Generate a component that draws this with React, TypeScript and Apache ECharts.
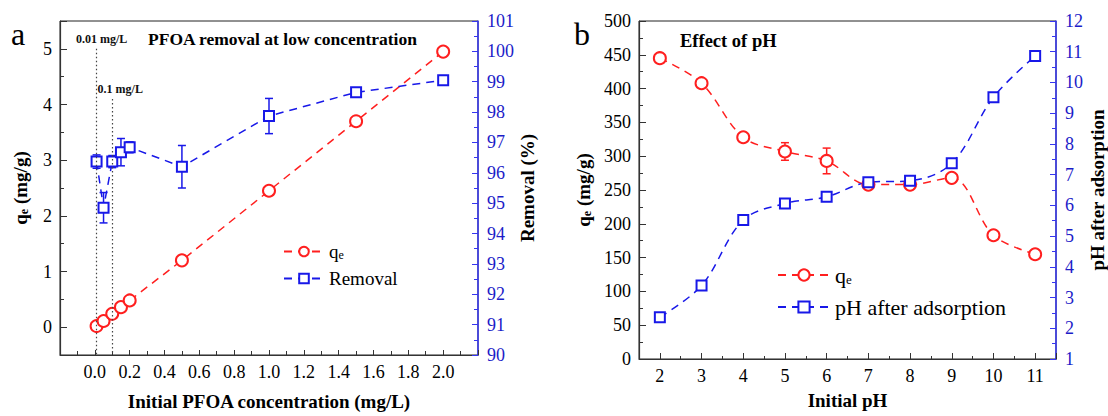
import React, { useEffect, useRef } from 'react';
import * as echarts from 'echarts';

// ---------- Panel a data ----------
const concA = [0.01, 0.05, 0.1, 0.15, 0.2, 0.5, 1.0, 1.5, 2.0];
const qeA = [0.02, 0.11, 0.24, 0.36, 0.48, 1.2, 2.45, 3.7, 4.95];
const qeAErr = [0.06, 0.07, 0.07, 0.07, 0.06, 0.06, 0.06, 0.06, 0.06];
const removalA = [96.37, 94.85, 96.37, 96.68, 96.84, 96.2, 97.87, 98.65, 99.05];
const removalAErr = [0.22, 0.5, 0.2, 0.45, 0.18, 0.7, 0.58, 0.12, 0.15];
const guideConc = [0.01, 0.1];
const guideTop = [5.0, 4.1];
const guideLabels = ['0.01 mg/L', '0.1 mg/L'];

// ---------- Panel b data ----------
const phB = [2, 3, 4, 5, 6, 7, 8, 9, 10, 11];
const qeB = [445, 408, 328, 307, 293, 258, 258, 268, 183, 155];
const qeBErr = [4, 4, 4, 13, 19, 5, 6, 6, 4, 3];
const phAfterB = [2.36, 3.39, 5.52, 6.06, 6.28, 6.75, 6.8, 7.37, 9.52, 10.86];
const phAfterBErr = [0.1, 0.1, 0.1, 0.1, 0.1, 0.1, 0.1, 0.1, 0.1, 0.1];

const FONT = "'Liberation Serif', 'Times New Roman', serif";
const RED = '#ff1f1f';
const BLUE = '#1818e8';
const AXIS_BLUE = '#3535f0';
const DARK = '#333';

const isInt = (v: number) => Math.abs(v - Math.round(v)) < 1e-6;

const errRender = (color: string) => (params: any, api: any) => {
  const x = api.value(0);
  const y = api.value(1);
  const e = api.value(2);
  const top = api.coord([x, y + e]);
  const bot = api.coord([x, y - e]);
  const w = 4;
  const st = { stroke: color, lineWidth: 1.5 };
  return {
    type: 'group',
    children: [
      { type: 'line', shape: { x1: top[0], y1: top[1], x2: bot[0], y2: bot[1] }, style: st },
      { type: 'line', shape: { x1: top[0] - w, y1: top[1], x2: top[0] + w, y2: top[1] }, style: st },
      { type: 'line', shape: { x1: bot[0] - w, y1: bot[1], x2: bot[0] + w, y2: bot[1] }, style: st },
    ],
  };
};

const tickLabel = (color = '#000') => ({ fontSize: 18, fontFamily: FONT, color });
const nameStyle = (size: number, color = '#000') => ({
  fontSize: size,
  fontWeight: 'bold',
  fontFamily: FONT,
  color,
  rich: {
    b: { fontSize: size, fontWeight: 'bold', fontFamily: FONT, color },
    s: { fontSize: Math.round(size * 0.62), fontWeight: 'bold', fontFamily: FONT, color, verticalAlign: 'bottom', lineHeight: 10 },
  },
});
const noSplit = { splitLine: { show: false }, minorSplitLine: { show: false } };

export default function App() {
  const ref = useRef<HTMLDivElement>(null);
  useEffect(() => {
    if (!ref.current) return;
    const chart = echarts.init(ref.current, undefined, { renderer: 'svg' });
    const option: any = {
      animation: false,
      backgroundColor: '#fff',
      grid: [
        { left: 60, top: 21, width: 418, height: 338, show: true, borderColor: '#222', borderWidth: 1, backgroundColor: 'transparent' },
        { left: 639, top: 21, width: 418, height: 338, show: true, borderColor: '#222', borderWidth: 1, backgroundColor: 'transparent' },
      ],
      xAxis: [
        {
          gridIndex: 0, type: 'value', position: 'bottom', min: -0.2, max: 2.2, interval: 0.2, ...noSplit,
          axisLine: { show: true, onZero: false, lineStyle: { color: DARK, width: 1.2 } },
          axisTick: { show: true, inside: true, length: 5, lineStyle: { color: DARK } },
          minorTick: { show: true, splitNumber: 2, length: 4, lineStyle: { color: DARK } },
          axisLabel: { ...tickLabel(), margin: 8, formatter: (v: number) => (v < -0.01 || v > 2.01 ? '' : v.toFixed(1)) },
          name: 'Initial PFOA concentration (mg/L)', nameLocation: 'middle', nameGap: 37, nameTextStyle: nameStyle(19),
        },
        {
          gridIndex: 1, type: 'value', position: 'bottom', min: 1.5, max: 11.5, splitNumber: 10, ...noSplit,
          axisLine: { show: true, onZero: false, lineStyle: { color: DARK, width: 1.2 } },
          axisTick: { show: true, inside: true, length: 6, lineStyle: { color: DARK } },
          axisLabel: { ...tickLabel(), margin: 8, formatter: (v: number) => (isInt(v) ? String(v) : '') },
          name: 'Initial pH', nameLocation: 'middle', nameGap: 32, nameTextStyle: nameStyle(19),
        },
        {
          gridIndex: 1, type: 'value', position: 'bottom', min: 1.5, max: 11.5, interval: 0.5, ...noSplit,
          axisLine: { show: false, onZero: false },
          axisTick: { show: true, inside: true, length: 3, lineStyle: { color: DARK } },
          axisLabel: { show: false },
        },
      ],
      yAxis: [
        {
          gridIndex: 0, type: 'value', position: 'left', min: -0.5, max: 5.5, splitNumber: 6, ...noSplit,
          axisLine: { show: true, onZero: false, lineStyle: { color: DARK, width: 1.2 } },
          axisTick: { show: true, inside: true, length: 7, lineStyle: { color: DARK } },
          axisLabel: { ...tickLabel(), margin: 8, formatter: (v: number) => (isInt(v) ? String(v) : '') },
          name: '{b|q}{s|e}{b| (mg/g)}', nameLocation: 'middle', nameGap: 30, nameTextStyle: nameStyle(19),
        },
        {
          gridIndex: 0, type: 'value', position: 'left', min: -0.5, max: 5.5, interval: 0.5, ...noSplit,
          axisLine: { show: false, onZero: false },
          axisTick: { show: true, inside: true, length: 4, lineStyle: { color: DARK } },
          axisLabel: { show: false },
        },
        {
          gridIndex: 0, type: 'value', position: 'right', min: 90, max: 101, interval: 1, ...noSplit,
          axisLine: { show: true, onZero: false, lineStyle: { color: AXIS_BLUE, width: 1.5 } },
          axisTick: { show: true, inside: true, length: 6, lineStyle: { color: AXIS_BLUE } },
          minorTick: { show: true, splitNumber: 2, length: 4, lineStyle: { color: AXIS_BLUE } },
          axisLabel: { ...tickLabel('#1c1cc8'), margin: 9 },
          name: 'Removal (%)', nameLocation: 'middle', nameGap: 33, nameTextStyle: nameStyle(19),
        },
        {
          gridIndex: 1, type: 'value', position: 'left', min: 0, max: 500, interval: 50, ...noSplit,
          axisLine: { show: true, onZero: false, lineStyle: { color: DARK, width: 1.2 } },
          axisTick: { show: true, inside: true, length: 7, lineStyle: { color: DARK } },
          minorTick: { show: true, splitNumber: 2, length: 4, lineStyle: { color: DARK } },
          axisLabel: { ...tickLabel(), margin: 8 },
          name: '{b|q}{s|e}{b| (mg/g)}', nameLocation: 'middle', nameGap: 46, nameTextStyle: nameStyle(19),
        },
        {
          gridIndex: 1, type: 'value', position: 'right', min: 1, max: 12, interval: 1, ...noSplit,
          axisLine: { show: true, onZero: false, lineStyle: { color: AXIS_BLUE, width: 1.5 } },
          axisTick: { show: true, inside: true, length: 6, lineStyle: { color: AXIS_BLUE } },
          minorTick: { show: true, splitNumber: 2, length: 4, lineStyle: { color: AXIS_BLUE } },
          axisLabel: { ...tickLabel('#1c1cc8'), margin: 9 },
          name: 'pH after adsorption', nameLocation: 'middle', nameGap: 32, nameTextStyle: nameStyle(19),
        },
      ],
      legend: [
        {
          data: ['qeA', 'Removal'], orient: 'vertical', left: 283, top: 242, padding: 0, itemWidth: 40, itemHeight: 12, itemGap: 8,
          formatter: (n: string) => (n === 'qeA' ? '{q|q}{e|e}' : n),
          textStyle: {
            fontSize: 19, fontFamily: FONT, color: '#000',
            rich: { q: { fontSize: 19, fontFamily: FONT }, e: { fontSize: 12, fontFamily: FONT, verticalAlign: 'bottom', lineHeight: 6 } },
          },
        },
        {
          data: ['qeB', 'pH after adsorption'], orient: 'vertical', left: 777, top: 264, padding: 0, itemWidth: 52, itemHeight: 14, itemGap: 10,
          formatter: (n: string) => (n === 'qeB' ? '{q|q}{e|e}' : n),
          textStyle: {
            fontSize: 22, fontFamily: FONT, color: '#000',
            rich: { q: { fontSize: 22, fontFamily: FONT }, e: { fontSize: 13, fontFamily: FONT, verticalAlign: 'bottom', lineHeight: 7 } },
          },
        },
      ],
      graphic: [
        { type: 'text', x: 18, y: 34, style: { text: 'a', font: `32px ${FONT}`, fill: '#000', textAlign: 'center', textVerticalAlign: 'middle' } },
        { type: 'text', x: 582, y: 34, style: { text: 'b', font: `32px ${FONT}`, fill: '#000', textAlign: 'center', textVerticalAlign: 'middle' } },
        { type: 'text', x: 148, y: 39, style: { text: 'PFOA removal at low concentration', font: `bold 17.5px ${FONT}`, fill: '#000', textAlign: 'left', textVerticalAlign: 'middle' } },
        { type: 'text', x: 680, y: 41, style: { text: 'Effect of pH', font: `bold 18.5px ${FONT}`, fill: '#000', textAlign: 'left', textVerticalAlign: 'middle' } },
      ],
      series: [
        {
          name: 'qeA', type: 'line', xAxisIndex: 0, yAxisIndex: 0,
          data: concA.map((x, i) => [x, qeA[i]]),
          symbol: 'emptyCircle', symbolSize: 12, color: RED,
          itemStyle: { color: RED, borderWidth: 1.5 },
          lineStyle: { color: RED, width: 1.5, type: [8, 6] },
          markLine: {
            silent: true, symbol: 'none',
            lineStyle: { color: '#444', width: 1.2, type: [1.5, 2.5] },
            label: { show: true, position: 'start', distance: 4, fontSize: 12, fontWeight: 'bold', fontFamily: FONT, color: '#111' },
            data: guideConc.map((x, i) => [
              { coord: [x, guideTop[i]], label: { formatter: guideLabels[i], padding: [0, 0, 0, i === 0 ? 10 : 16] } },
              { coord: [x, -0.5] },
            ]),
          },
        },
        {
          name: 'Removal', type: 'line', xAxisIndex: 0, yAxisIndex: 2,
          data: concA.map((x, i) => [x, removalA[i]]),
          symbol: 'emptyRect', symbolSize: 10, color: BLUE,
          itemStyle: { color: BLUE, borderWidth: 1.5 },
          lineStyle: { color: BLUE, width: 1.5, type: [8, 6] },
        },
        {
          type: 'custom', xAxisIndex: 0, yAxisIndex: 0, renderItem: errRender(RED), encode: { x: 0, y: 1 },
          data: concA.map((x, i) => [x, qeA[i], qeAErr[i]]), silent: true,
        },
        {
          type: 'custom', xAxisIndex: 0, yAxisIndex: 2, renderItem: errRender(BLUE), encode: { x: 0, y: 1 },
          data: concA.map((x, i) => [x, removalA[i], removalAErr[i]]), silent: true,
        },
        {
          name: 'qeB', type: 'line', xAxisIndex: 1, yAxisIndex: 3, smooth: 0.35,
          data: phB.map((x, i) => [x, qeB[i]]),
          symbol: 'emptyCircle', symbolSize: 12, color: RED,
          itemStyle: { color: RED, borderWidth: 1.5 },
          lineStyle: { color: RED, width: 1.5, type: [8, 6] },
        },
        {
          name: 'pH after adsorption', type: 'line', xAxisIndex: 1, yAxisIndex: 4, smooth: 0.35,
          data: phB.map((x, i) => [x, phAfterB[i]]),
          symbol: 'emptyRect', symbolSize: 10, color: BLUE,
          itemStyle: { color: BLUE, borderWidth: 1.5 },
          lineStyle: { color: BLUE, width: 1.5, type: [8, 6] },
        },
        {
          type: 'custom', xAxisIndex: 1, yAxisIndex: 3, renderItem: errRender(RED), encode: { x: 0, y: 1 },
          data: phB.map((x, i) => [x, qeB[i], qeBErr[i]]), silent: true,
        },
        {
          type: 'custom', xAxisIndex: 1, yAxisIndex: 4, renderItem: errRender(BLUE), encode: { x: 0, y: 1 },
          data: phB.map((x, i) => [x, phAfterB[i], phAfterBErr[i]]), silent: true,
        },
      ],
    };
    chart.setOption(option);
    return () => chart.dispose();
  }, []);
  return <div ref={ref} style={{ position: 'absolute', left: 0, top: 0, width: 1108, height: 416 }} />;
}
